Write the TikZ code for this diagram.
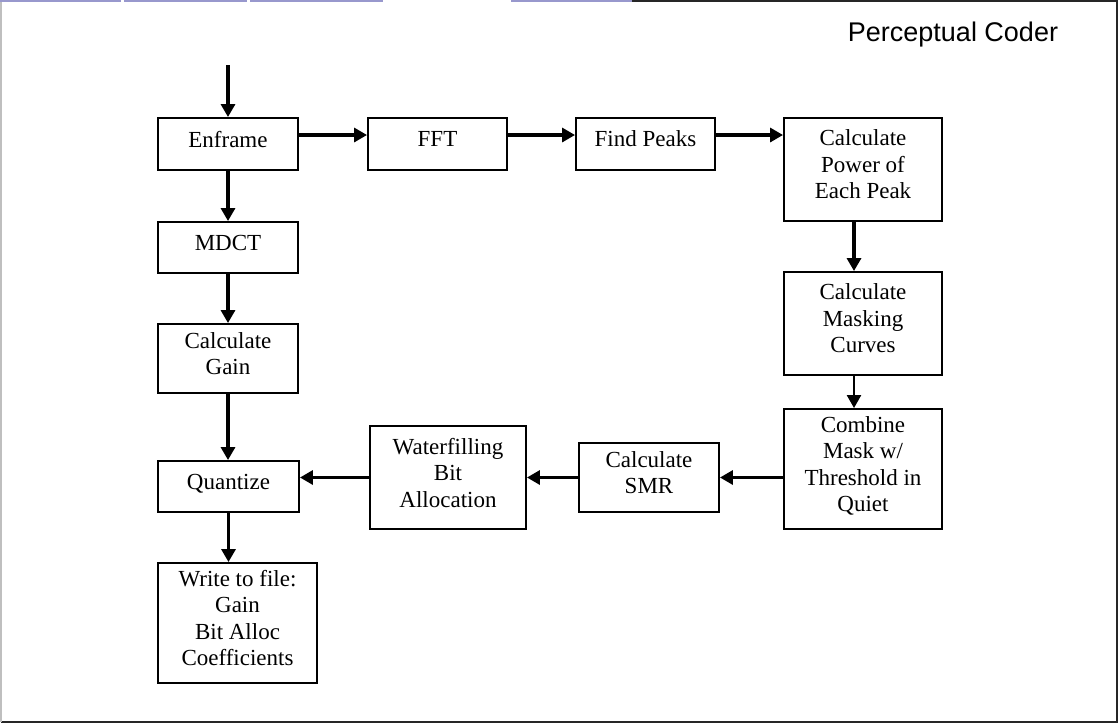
\documentclass[tikz,border=0pt]{standalone}
\usepackage{fontspec}
\setmainfont{Liberation Serif}
\newfontfamily\titlefont{Liberation Sans}
\usetikzlibrary{arrows.meta}

\begin{document}
\begin{tikzpicture}
[
                     x =  1pt,
                     y = -1pt,
                    ->, >= {Triangle[length=13pt,width=14pt]},
            line width = 3.2pt,
             blk/.style = { draw=black, rectangle, line width=1.9pt, inner sep=0pt, align=center,
                            font=\fontsize{23}{26.5}\selectfont, execute at end node={\rule[-10pt]{0pt}{10pt}} },
             ttl/.style = { draw=none, anchor=base west, font=\titlefont\fontsize{27}{30}\selectfont },
             rim/.style = { -, draw=black!85, line width=2pt },
            edge/.style = { -, draw=black!25, line width=1.5pt },
         tabline/.style = { -, draw=blue!35!gray!60, line width=2pt }
]

	\useasboundingbox (0,0) rectangle (1119,724);

	\draw[rim]     (632,1) -- (1117,1) -- (1117,722) -- (1,722);
	\draw[edge]    (1,1) -- (1,722);
	\draw[tabline] (0,1) -- (121,1);
	\draw[tabline] (124,1) -- (247,1);
	\draw[tabline] (250,1) -- (383,1);
	\draw[tabline] (511,1) -- (632,1);

	\node (t) at (843, 41) [ttl] {Perceptual Coder};

	\node  (1) at (228  , 144  ) [blk, minimum width=140pt, minimum height=52pt]  {Enframe};
	\node  (2) at (437.5, 144  ) [blk, minimum width=139pt, minimum height=52pt]  {FFT};
	\node  (3) at (645.5, 144  ) [blk, minimum width=139pt, minimum height=52pt]  {Find Peaks};
	\node  (4) at (863  , 169.5) [blk, minimum width=158pt, minimum height=103pt] {Calculate\\Power of\\Each Peak};
	\node  (5) at (863  , 323.5) [blk, minimum width=158pt, minimum height=103pt] {Calculate\\Masking\\Curves};
	\node  (6) at (863  , 469  ) [blk, minimum width=158pt, minimum height=120pt] {Combine\\Mask w/\\Threshold in\\Quiet};
	\node  (7) at (649  , 477.5) [blk, minimum width=140pt, minimum height=69pt]  {Calculate\\SMR};
	\node  (8) at (448  , 477.5) [blk, minimum width=156pt, minimum height=103pt] {Waterfilling\\Bit\\Allocation};
	\node  (9) at (228.5, 486.5) [blk, minimum width=141pt, minimum height=51pt]  {Quantize};
	\node (10) at (228  , 247.5) [blk, minimum width=140pt, minimum height=51pt]  {MDCT};
	\node (11) at (228  , 358.5) [blk, minimum width=140pt, minimum height=69pt]  {Calculate\\Gain};
	\node (12) at (237.5, 623  ) [blk, minimum width=159pt, minimum height=120pt] {Write to file:\\Gain\\Bit Alloc\\Coefficients};

	\coordinate (in) at (228, 65);

	\draw (in) -> (1);

	\draw ([yshift=9pt]1.east) -> ([yshift=9pt]2.west);
	\draw ([yshift=9pt]2.east) -> ([yshift=9pt]3.west);
	\draw ([yshift=9pt]3.east) -> ([yshift=9pt]3.east -| 4.west);

	\draw ([xshift=-9pt]4.south) -> ([xshift=-9pt]5.north);
	\draw[line width=2.4pt] ([xshift=-9pt]5.south) -> ([xshift=-9pt]6.north);

	\draw (6.west |- 7) -> (7.east);
	\draw (7.west) -> (8.east);
	\draw (8.west) -> (8.west -| 9.east);

	\draw (1) -> (10);
	\draw (10) -> (11);
	\draw (11) -> (11 |- 9.north);
	\draw (9) -> (9 |- 12.north);

\end{tikzpicture}
\end{document}
